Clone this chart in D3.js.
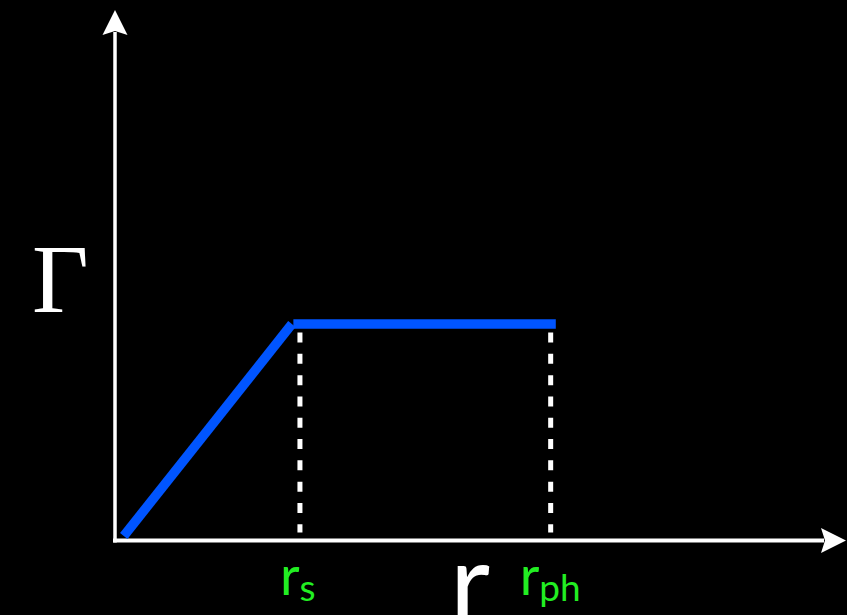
<!DOCTYPE html>
<html>
<head>
<meta charset="utf-8">
<script src="https://cdn.jsdelivr.net/npm/d3@7"></script>
<style>
  html, body { margin: 0; padding: 0; background: #000; }
  svg { display: block; }
</style>
</head>
<body>
<svg id="chart" width="847" height="615"></svg>
<script>
// ---- data (arbitrary units: r along x, Gamma along y) ----
const rampR = [1.2, 24.2];
const rampG = [0.85, 40.8];
const plateauR = [24.4, 60.3];
const plateauG = [40.8, 40.8];
const guideR = [25.3, 59.6];
const guideTop = 39.2;
const guideBottom = 1.5;
const guideLabels = [
  { main: "r", sub: "s" },
  { main: "r", sub: "ph" }
];
const xLabel = "r";
const yLabel = "Γ";
const xMax = 100, yMax = 100;

// ---- layout ----
const W = 847, H = 615;
const svg = d3.select("#chart");
svg.append("rect").attr("width", W).attr("height", H).attr("fill", "#000");

const x = d3.scaleLinear().domain([0, xMax]).range([115, 846]);
const y = d3.scaleLinear().domain([0, yMax]).range([540.5, 10]);

const white = "#ffffff";
const green = "#22ee22";
const blue = "#0055ff";

// axes
svg.append("line")
  .attr("x1", x(0)).attr("x2", x(0))
  .attr("y1", y(0) + 2).attr("y2", y(yMax) + 22)
  .attr("stroke", white).attr("stroke-width", 3.5);
svg.append("line")
  .attr("x1", x(0) - 2).attr("x2", x(xMax) - 22)
  .attr("y1", y(0)).attr("y2", y(0))
  .attr("stroke", white).attr("stroke-width", 4);

// arrowheads
const yt = [x(0), y(yMax)];
svg.append("path")
  .attr("d", `M${yt[0]},${yt[1]} L${yt[0] + 12.5},${yt[1] + 25} L${yt[0]},${yt[1] + 21} L${yt[0] - 12.5},${yt[1] + 25} Z`)
  .attr("fill", white);
const xt = [x(xMax), y(0)];
svg.append("path")
  .attr("d", `M${xt[0]},${xt[1]} L${xt[0] - 25},${xt[1] - 12.5} L${xt[0] - 21},${xt[1]} L${xt[0] - 25},${xt[1] + 12.5} Z`)
  .attr("fill", white);

// dashed guides
svg.selectAll("line.guide").data(guideR).enter().append("line")
  .attr("class", "guide")
  .attr("x1", d => x(d)).attr("x2", d => x(d))
  .attr("y1", y(guideTop)).attr("y2", y(guideBottom))
  .attr("stroke", white).attr("stroke-width", 5)
  .attr("stroke-dasharray", "10,11.3");

// curve: ramp + plateau
const line = d3.line().x(d => x(d[0])).y(d => y(d[1]));
svg.append("path")
  .attr("d", line(d3.zip(rampR, rampG)))
  .attr("fill", "none").attr("stroke", blue).attr("stroke-width", 9.5);
svg.append("path")
  .attr("d", line(d3.zip(plateauR, plateauG)))
  .attr("fill", "none").attr("stroke", blue).attr("stroke-width", 9.5);

// labels
svg.append("text")
  .attr("x", 32).attr("y", 312)
  .attr("font-family", "Liberation Serif, serif")
  .attr("font-size", 98).attr("fill", white)
  .text(yLabel);

svg.append("text")
  .attr("x", 450).attr("y", 622)
  .attr("font-family", "Lato, sans-serif")
  .attr("font-size", 110).attr("fill", white)
  .text(xLabel);

const gl = svg.selectAll("text.gl").data(guideR).enter().append("text")
  .attr("class", "gl")
  .attr("x", (d, i) => x(d) - (i === 0 ? 20 : 31))
  .attr("y", 595)
  .attr("font-family", "Lato, sans-serif")
  .attr("fill", green);
gl.append("tspan").attr("font-size", 54).text((d, i) => guideLabels[i].main);
gl.append("tspan").attr("font-size", 37).attr("dy", 6).text((d, i) => guideLabels[i].sub);
</script>
</body>
</html>
